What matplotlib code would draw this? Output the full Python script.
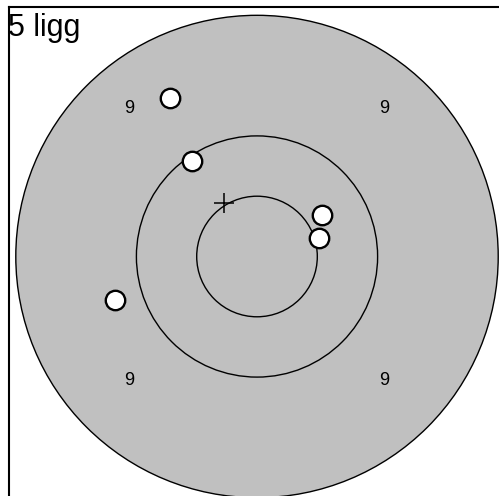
import matplotlib
matplotlib.use("Agg")
import matplotlib.pyplot as plt
from matplotlib.patches import Circle

plt.rcParams['font.family'] = ['Liberation Sans', 'DejaVu Sans']

# ring radii (units) and ring value labels
ring_radii = [4.0, 2.0, 1.0]
ring_label = "9"
label_x = [-2.12, 2.11, -2.12, 2.11]
label_y = [2.45, 2.45, -2.06, -2.06]

# shots
shot_x = [-1.443, -1.083, 1.083, 1.033, -2.355]
shot_y = [2.633, 1.584, 0.688, 0.312, -0.721]

# aim mark (cross)
cross_x = [-0.542]
cross_y = [0.882]

title = "5 ligg"

W, H = 499, 496
fig = plt.figure(figsize=(W / 100, H / 100), dpi=100)
ax = fig.add_axes([8.5 / W, 0, 1 - 8.5 / W, 1 - 6.5 / H])
ax.set_xlim(-4.121, 4.013)
ax.set_ylim(-3.972, 4.146)
ax.set_aspect('auto')

for i, r in enumerate(ring_radii):
    ax.add_patch(Circle((0, 0), r, facecolor='#c0c0c0' if i == 0 else 'none',
                        edgecolor='black', lw=1.0, zorder=1 + i))

for x, y in zip(label_x, label_y):
    ax.text(x, y, ring_label, ha='center', va='center', fontsize=13, zorder=5)

ax.plot(cross_x, cross_y, marker='+', markersize=13.7, markeredgewidth=1.1,
        color='black', linestyle='none', zorder=6)
ax.plot(shot_x, shot_y, marker='o', markersize=14, markeredgewidth=1.7,
        markerfacecolor='white', markeredgecolor='black', linestyle='none', zorder=7)

ax.set_xticks([])
ax.set_yticks([])
ax.spines['right'].set_visible(False)
ax.spines['bottom'].set_visible(False)
for s in ['left', 'top']:
    ax.spines[s].set_linewidth(1.5)

fig.text(8.5 / W, 1 - 13 / H, title, ha='left', va='top', fontsize=22)

fig.savefig('out.png', dpi=100)
